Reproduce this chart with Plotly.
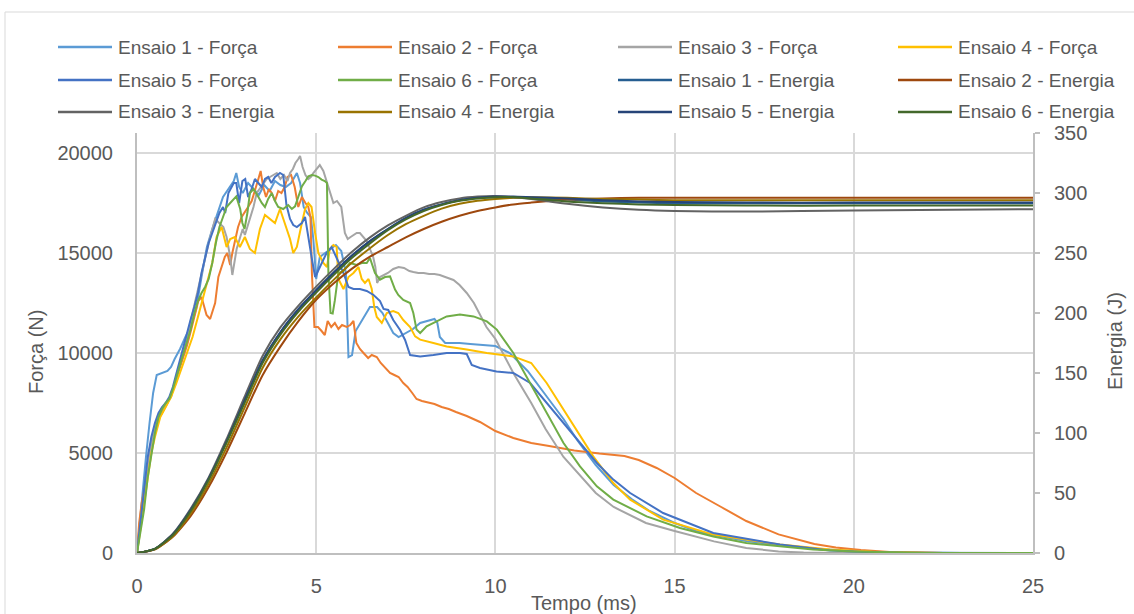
import plotly.graph_objects as go

# ---- Force (N) vs time (ms), one trace per test ----
t1 = [0, 0.08, 0.15, 0.25, 0.35, 0.45, 0.55, 0.7, 0.85, 0.95, 1.05, 1.2, 1.35, 1.5, 1.65, 1.8, 1.95, 2.1, 2.25, 2.4,
      2.55, 2.7, 2.77, 2.85, 2.95, 3.1, 3.25, 3.4, 3.55, 3.7, 3.85, 4.0, 4.15, 4.3, 4.46, 4.55, 4.65, 4.75, 4.85, 4.92,
      5.0, 5.1, 5.25, 5.4, 5.55, 5.7, 5.83, 5.9, 6.0, 6.1, 6.3, 6.5, 6.7, 6.85, 7.0, 7.15, 7.3, 7.5, 7.7, 7.9,
      8.1, 8.3, 8.38, 8.45, 8.6, 8.8, 9.0, 9.3, 9.6, 10.0, 10.4, 10.9, 11.4, 11.9, 12.3, 12.8, 13.3, 13.8, 14.3, 15.0,
      15.6, 16.1, 17.0, 18.0, 19.0, 20.0, 21.0, 22.0, 23.0, 25.0]
forca1 = [0, 1500, 3200, 4800, 6500, 8000, 8900, 9000, 9100, 9300, 9700, 10200, 10800, 11300, 12200, 13800, 15300, 16200, 17000, 17800,
          18200, 18600, 19000, 18300, 18000, 18500, 18200, 17900, 18400, 18100, 18600, 18400, 18300, 18500, 19000, 18500, 17300, 17000, 16800, 15700,
          13700, 14800, 15000, 15200, 15400, 15100, 14000, 9800, 9900, 11100, 11700, 12300, 12300, 12000, 11500, 11000, 10800, 11000, 11200, 11500,
          11600, 11700, 11500, 10800, 10500, 10500, 10500, 10450, 10400, 10350, 10000, 9100, 7900, 6700, 5600, 4400, 3400, 2700, 2100, 1500,
          1100, 900, 600, 380, 200, 100, 40, 10, 0, 0]

t2 = [0, 0.06, 0.13, 0.22, 0.32, 0.42, 0.5, 0.6, 0.7, 0.85, 0.97, 1.1, 1.25, 1.4, 1.53, 1.62, 1.71, 1.8, 1.87, 1.94,
      2.04, 2.12, 2.18, 2.27, 2.36, 2.45, 2.52, 2.6, 2.66, 2.73, 2.82, 2.92, 3.0, 3.1, 3.2, 3.29, 3.37, 3.45, 3.52, 3.6,
      3.68, 3.76, 3.85, 3.94, 4.03, 4.12, 4.2, 4.3, 4.4, 4.5, 4.6, 4.7, 4.78, 4.84, 4.88, 4.95, 5.05, 5.15, 5.24, 5.32,
      5.42, 5.52, 5.62, 5.72, 5.85, 5.95, 6.04, 6.12, 6.22, 6.32, 6.45, 6.55, 6.69, 6.8, 6.9, 7.06, 7.18, 7.3, 7.43, 7.55,
      7.68, 7.8, 7.95, 8.1, 8.3, 8.5, 8.7, 8.9, 9.2, 9.57, 10.0, 10.5, 11.0, 11.5, 12.2, 12.9, 13.6, 14.0, 14.5, 15.0,
      15.6, 16.3, 17.0, 17.9, 18.9, 19.5, 20.2, 21.0, 21.6, 22.5, 25.0]
forca2 = [0, 1500, 2500, 3300, 4800, 5800, 6300, 6700, 7000, 7500, 8000, 8700, 9500, 10400, 11300, 11900, 12600, 12800, 12300, 11900,
          11700, 12200, 12500, 13800, 14300, 14800, 15000, 14400, 15000, 15600, 16300, 16800, 17000, 17300, 17600, 18200, 18600, 19100, 18300, 17800,
          18200, 18000, 17600, 18100, 18000, 18300, 18800, 18900, 18300, 17300, 17800, 17500, 17300, 16800, 14000, 11300, 11300, 11100, 10900, 11600,
          11300, 11500, 11200, 11400, 11300, 11400, 11600, 10500, 10200, 10000, 9750, 9900, 9800, 9500, 9300, 9000, 8900, 8800, 8500, 8300,
          8000, 7700, 7600, 7550, 7450, 7300, 7200, 7050, 6850, 6550, 6100, 5750, 5500, 5350, 5120, 4970, 4850, 4650, 4250, 3750,
          3000, 2300, 1600, 930, 450, 280, 150, 50, 15, 0, 0]

t3 = [0, 0.1, 0.2, 0.3, 0.4, 0.5, 0.65, 0.8, 0.95, 1.1, 1.25, 1.4, 1.55, 1.7, 1.85, 2.0, 2.18, 2.3, 2.41, 2.5,
      2.6, 2.66, 2.72, 2.78, 2.88, 2.95, 3.01, 3.08, 3.15, 3.25, 3.34, 3.45, 3.53, 3.62, 3.71, 3.8, 3.9, 4.0, 4.1, 4.2,
      4.27, 4.35, 4.42, 4.5, 4.55, 4.62, 4.7, 4.78, 4.85, 4.92, 5.0, 5.1, 5.2, 5.3, 5.4, 5.48, 5.58, 5.7, 5.8, 5.88,
      5.96, 6.04, 6.13, 6.22, 6.32, 6.41, 6.5, 6.59, 6.65, 6.7, 6.78, 6.9, 7.0, 7.15, 7.3, 7.45, 7.6, 7.71, 7.85, 8.0,
      8.15, 8.3, 8.45, 8.6, 8.83, 9.0, 9.2, 9.4, 9.57, 9.75, 10.0, 10.5, 11.0, 11.4, 11.9, 12.4, 12.8, 13.3, 14.2, 15.0,
      16.1, 17.0, 17.9, 18.6, 19.5, 25.0]
forca3 = [0, 1500, 3200, 4500, 5500, 6300, 7000, 7500, 7800, 8800, 9800, 10800, 12000, 13200, 14300, 15500, 16700, 16500, 16300, 15800,
          14800, 13900, 14600, 15200, 15800, 16200, 15900, 16300, 16800, 17300, 18000, 18300, 18500, 18700, 18800, 18900, 19000, 18700, 18900, 18600,
          19000, 19200, 19500, 19700, 19850, 19300, 18900, 18700, 18800, 19000, 19200, 19400, 19100, 18500, 18000, 17500, 17600, 17300, 16000, 15700,
          15800, 15900, 16000, 16000, 15800, 15600, 15200, 14800, 14300, 13500, 13800, 13900, 14000, 14200, 14300, 14250, 14100, 14050, 14000, 14000,
          13950, 13950, 13900, 13800, 13650, 13400, 13000, 12500, 11900, 11300, 10700, 9000, 7500, 6200, 4800, 3800, 3000, 2300, 1500, 1100,
          580, 250, 80, 20, 0, 0]

t4 = [0, 0.1, 0.2, 0.3, 0.4, 0.5, 0.65, 0.8, 0.95, 1.1, 1.25, 1.4, 1.55, 1.7, 1.85, 2.0, 2.1, 2.22, 2.36, 2.5,
      2.6, 2.73, 2.87, 3.01, 3.15, 3.29, 3.43, 3.57, 3.71, 3.85, 3.99, 4.13, 4.27, 4.36, 4.46, 4.6, 4.69, 4.78, 4.87, 4.97,
      5.06, 5.2, 5.3, 5.38, 5.48, 5.57, 5.62, 5.76, 5.9, 6.04, 6.18, 6.27, 6.36, 6.46, 6.55, 6.62, 6.69, 6.83, 6.97, 7.15,
      7.29, 7.43, 7.62, 7.76, 7.9, 8.27, 8.64, 9.2, 9.76, 10.5, 11.0, 11.43, 11.9, 12.36, 12.73, 13.29, 13.76, 14.68, 16.08, 17.94,
      19.33, 20.5, 21.5, 22.5, 25.0]
forca4 = [0, 1200, 2500, 3800, 5000, 5800, 6800, 7300, 7800, 8500, 9300, 10000, 10800, 11800, 12800, 13800, 14500, 15800, 16300, 15300,
          15700, 15800, 15300, 15800, 15200, 15000, 16200, 16900, 16700, 16500, 17200, 16500, 15700, 15000, 15300, 16500, 17200, 17500, 17300, 16000,
          15000, 14500, 14300, 15200, 15400, 15300, 13700, 13200, 13800, 14000, 14300, 13700, 13500, 13700, 13200, 12300, 11800, 11500, 12000, 12100,
          12000, 11650, 11300, 10830, 10670, 10500, 10330, 10170, 10000, 9830, 9500, 8500, 7170, 5830, 4830, 3500, 2670, 1670, 920, 420,
          170, 60, 20, 0, 0]

t5 = [0, 0.1, 0.2, 0.3, 0.4, 0.5, 0.6, 0.7, 0.8, 0.9, 1.0, 1.1, 1.2, 1.3, 1.4, 1.5, 1.6, 1.7, 1.8, 1.9,
      2.0, 2.1, 2.2, 2.3, 2.4, 2.46, 2.55, 2.63, 2.7, 2.77, 2.85, 2.94, 3.02, 3.1, 3.2, 3.29, 3.38, 3.48, 3.57, 3.66,
      3.75, 3.85, 3.92, 3.99, 4.08, 4.17, 4.27, 4.36, 4.46, 4.6, 4.69, 4.78, 4.88, 4.97, 5.1, 5.2, 5.29, 5.43, 5.57, 5.66,
      5.76, 5.9, 6.04, 6.22, 6.41, 6.6, 6.78, 6.88, 7.01, 7.15, 7.34, 7.48, 7.62, 7.9, 8.27, 8.64, 9.01, 9.2, 9.34, 9.57,
      10.03, 10.5, 10.97, 11.43, 11.9, 12.36, 12.83, 13.29, 13.76, 14.68, 16.08, 17.94, 19.33, 20.5, 21.5, 25.0]
forca5 = [0, 1500, 3200, 4800, 5800, 6500, 7000, 7300, 7500, 7800, 8300, 9000, 9600, 10300, 11000, 11700, 12300, 13000, 14000, 14800,
          15500, 16000, 16500, 17000, 17300, 17000, 18000, 18300, 18500, 18500, 17500, 18600, 18700, 17800, 18200, 18700, 18500, 18300, 18700, 18800,
          18500, 18800, 18900, 19000, 18900, 17400, 16700, 16400, 16300, 16500, 16800, 15700, 14700, 13800, 14300, 14700, 15000, 15300, 14800, 14400,
          14000, 13300, 13200, 13200, 13100, 12900, 12600, 12200, 12150, 11650, 11150, 10650, 9900, 9830, 9900, 10000, 10000, 9950, 9400, 9250,
          9080, 9000, 8500, 7500, 6500, 5500, 4500, 3670, 3000, 2000, 1000, 420, 130, 40, 10, 0]

t6 = [0, 0.1, 0.2, 0.3, 0.4, 0.5, 0.6, 0.7, 0.8, 0.9, 1.0, 1.1, 1.2, 1.3, 1.4, 1.5, 1.6, 1.7, 1.8, 1.9,
      2.0, 2.1, 2.2, 2.3, 2.4, 2.5, 2.6, 2.77, 2.88, 2.94, 3.0, 3.08, 3.15, 3.25, 3.38, 3.48, 3.57, 3.66, 3.76, 3.85,
      3.94, 4.08, 4.22, 4.32, 4.41, 4.5, 4.6, 4.7, 4.78, 4.88, 4.97, 5.06, 5.15, 5.24, 5.3, 5.34, 5.4, 5.46, 5.52, 5.62,
      5.76, 5.94, 6.13, 6.27, 6.41, 6.5, 6.64, 6.78, 6.92, 7.06, 7.2, 7.29, 7.43, 7.62, 7.71, 7.8, 7.9, 8.08, 8.36, 8.64,
      9.01, 9.39, 9.76, 10.04, 10.5, 10.97, 11.43, 11.9, 12.36, 12.83, 13.29, 14.22, 15.15, 16.08, 17.0, 18.86, 20.0, 21.0, 22.0, 25.0]
forca6 = [0, 1000, 2200, 3800, 5000, 6000, 6800, 7200, 7500, 7700, 8200, 8800, 9300, 9900, 10500, 11200, 12000, 12600, 13000, 13300,
          13700, 14500, 15500, 16300, 16800, 17300, 17500, 17830, 17200, 16500, 16200, 17000, 18000, 18200, 17830, 17500, 17300, 17700, 18000, 17600,
          17300, 17200, 17400, 17200, 17330, 17800, 18330, 18600, 18830, 18900, 18870, 18800, 18670, 18600, 18500, 14000, 12000, 11970, 12630, 14000,
          14100, 14500, 14400, 14500, 14500, 14750, 14000, 13670, 13800, 13830, 13170, 12900, 12650, 12500, 12000, 11170, 11000, 11330, 11580, 11830,
          11920, 11830, 11580, 11170, 10000, 8500, 7000, 5500, 4330, 3330, 2670, 1830, 1250, 830, 500, 170, 70, 20, 5, 0]

# ---- Absorbed energy (J) vs time (ms) ----
t_energia = [0, 0.5, 1, 1.5, 2, 2.5, 3, 3.5, 4, 4.5, 5, 5.5, 6, 6.5, 7, 7.5, 8, 8.5, 9, 9.5,
             10, 10.5, 11, 12, 13, 14, 15, 17, 20, 25]
energia1 = [0, 3.5, 15.5, 36, 62, 93, 127, 160, 184, 203, 219, 234, 248, 260, 270, 279, 286, 290.5, 294, 296,
            296.5, 296.5, 296, 294.5, 293, 292, 291.5, 291.5, 291.5, 291.5]
energia2 = [0, 3, 13.5, 31, 55, 84, 116, 148, 172, 193, 211, 225, 237, 247, 255, 263, 270, 276, 281, 285,
            288, 290.5, 292, 294.5, 295.5, 296, 296, 296, 296, 296]
energia3 = [0, 3.5, 16, 37, 63, 95, 130, 164, 188, 206, 222, 237, 251, 263, 273, 281, 288, 292.5, 295.5, 297,
            297.5, 296.5, 295, 291, 288, 286, 285, 284.5, 285.5, 286.5]
energia4 = [0, 3, 14, 33, 58, 88, 121, 154, 178, 197, 213, 228, 242, 254, 265, 274, 281, 287, 291, 293.5,
            295, 296, 296.5, 296, 295, 294.5, 294, 294, 294, 294]
energia5 = [0, 3.5, 15.5, 36, 62, 93, 127, 160, 184, 203, 219, 234, 248, 260, 270, 279, 286, 290.5, 294, 296,
            297, 297, 296.5, 295.5, 294, 293, 292.5, 292, 292, 292]
energia6 = [0, 3.5, 15, 35, 61, 92, 125, 158, 182, 201, 217, 232, 246, 258, 269, 278, 285, 290, 293.5, 295.5,
            296.5, 296.5, 295.5, 293, 291.5, 290.5, 290, 289.5, 289.5, 289.5]

tempos_forca = [t1, t2, t3, t4, t5, t6]
forcas = [forca1, forca2, forca3, forca4, forca5, forca6]
energias = [energia1, energia2, energia3, energia4, energia5, energia6]

nomes_forca = ["Ensaio 1 - Força", "Ensaio 2 - Força", "Ensaio 3 - Força",
               "Ensaio 4 - Força", "Ensaio 5 - Força", "Ensaio 6 - Força"]
nomes_energia = ["Ensaio 1 - Energia", "Ensaio 2 - Energia", "Ensaio 3 - Energia",
                 "Ensaio 4 - Energia", "Ensaio 5 - Energia", "Ensaio 6 - Energia"]
cores_forca = ["#5B9BD5", "#ED7D31", "#A5A5A5", "#FFC000", "#4472C4", "#70AD47"]
cores_energia = ["#255E91", "#9E480E", "#636363", "#997300", "#264478", "#43682B"]

forca_ticks = [0, 5000, 10000, 15000, 20000]
energia_ticks = [0, 50, 100, 150, 200, 250, 300, 350]
tempo_ticks = [0, 5, 10, 15, 20, 25]

for tt, ff in zip(tempos_forca, forcas):
    assert len(tt) == len(ff)
for ee in energias:
    assert len(ee) == len(t_energia)

# Page geometry (pixels)
W, H = 1134, 614
L, R, T, B = 137, 101, 133, 61
PW, PH = W - L - R, H - T - B
TXT = "#595959"
FONT = "Liberation Sans, Arial, sans-serif"


def px(x):
    return (x - L) / PW


def py(y):
    return (H - B - y) / PH


fig = go.Figure()

for tt, ff, nome, cor in zip(tempos_forca, forcas, nomes_forca, cores_forca):
    fig.add_trace(go.Scatter(x=tt, y=ff, name=nome, mode="lines",
                             line=dict(color=cor, width=2), yaxis="y"))

for ee, nome, cor in zip(energias, nomes_energia, cores_energia):
    fig.add_trace(go.Scatter(x=t_energia, y=ee, name=nome, mode="lines",
                             line=dict(color=cor, width=2, shape="spline", smoothing=0.6),
                             yaxis="y2"))

# Legend: 4 columns x 3 rows, filled row by row
shapes = []
annotations = []
entradas = list(zip(nomes_forca + nomes_energia, cores_forca + cores_energia))
col_x = [58, 338, 618, 898]
row_y = [47, 80, 112]
for i, (nome, cor) in enumerate(entradas):
    cx = col_x[i % 4]
    ry = row_y[i // 4]
    shapes.append(dict(type="line", xref="paper", yref="paper",
                       x0=px(cx), x1=px(cx + 54), y0=py(ry), y1=py(ry),
                       line=dict(color=cor, width=2.5)))
    annotations.append(dict(text=nome, xref="paper", yref="paper",
                            x=px(cx + 58), y=py(ry), xanchor="left", yanchor="middle",
                            showarrow=False, font=dict(family=FONT, size=19, color=TXT)))

# Chart frame
shapes.append(dict(type="rect", xref="paper", yref="paper",
                   x0=px(5), x1=px(W + 10), y0=py(12), y1=py(H + 10),
                   line=dict(color="#D9D9D9", width=1), fillcolor="rgba(0,0,0,0)", layer="below"))

# Axis titles
annotations.append(dict(text="Força (N)", xref="paper", yref="paper", x=px(36), y=py(352),
                        textangle=-90, showarrow=False, xanchor="center", yanchor="middle",
                        font=dict(family=FONT, size=20, color=TXT)))
annotations.append(dict(text="Energia (J)", xref="paper", yref="paper", x=px(1115), y=py(341),
                        textangle=-90, showarrow=False, xanchor="center", yanchor="middle",
                        font=dict(family=FONT, size=20, color=TXT)))
annotations.append(dict(text="Tempo (ms)", xref="paper", yref="paper", x=px(584), y=py(603),
                        showarrow=False, xanchor="center", yanchor="middle",
                        font=dict(family=FONT, size=20, color=TXT)))

fig.update_layout(
    width=W, height=H,
    margin=dict(l=L, r=R, t=T, b=B),
    paper_bgcolor="white", plot_bgcolor="white",
    showlegend=False,
    font=dict(family=FONT, size=20, color=TXT),
    xaxis=dict(range=[0, 25], tickvals=tempo_ticks, showgrid=True, gridcolor="#D9D9D9", gridwidth=1.5,
               showline=True, linecolor="#BFBFBF", linewidth=2, zeroline=False, ticks="",
               ticklabelstandoff=14, tickfont=dict(size=20, color=TXT)),
    yaxis=dict(range=[0, 21000], tickvals=forca_ticks, tickformat="d", showgrid=True,
               gridcolor="#D9D9D9", gridwidth=1.5,
               showline=True, linecolor="#BFBFBF", linewidth=2, zeroline=False, ticks="",
               ticklabelstandoff=18, tickfont=dict(size=20, color=TXT)),
    yaxis2=dict(range=[0, 350], tickvals=energia_ticks, tickformat="d", overlaying="y", side="right",
                showgrid=False,
                showline=True, linecolor="#BFBFBF", linewidth=2, zeroline=False, ticks="outside",
                ticklen=5, tickcolor="#BFBFBF", tickwidth=2, ticklabelstandoff=10,
                tickfont=dict(size=20, color=TXT)),
    shapes=shapes,
    annotations=annotations,
)

fig.write_html("out.html")
